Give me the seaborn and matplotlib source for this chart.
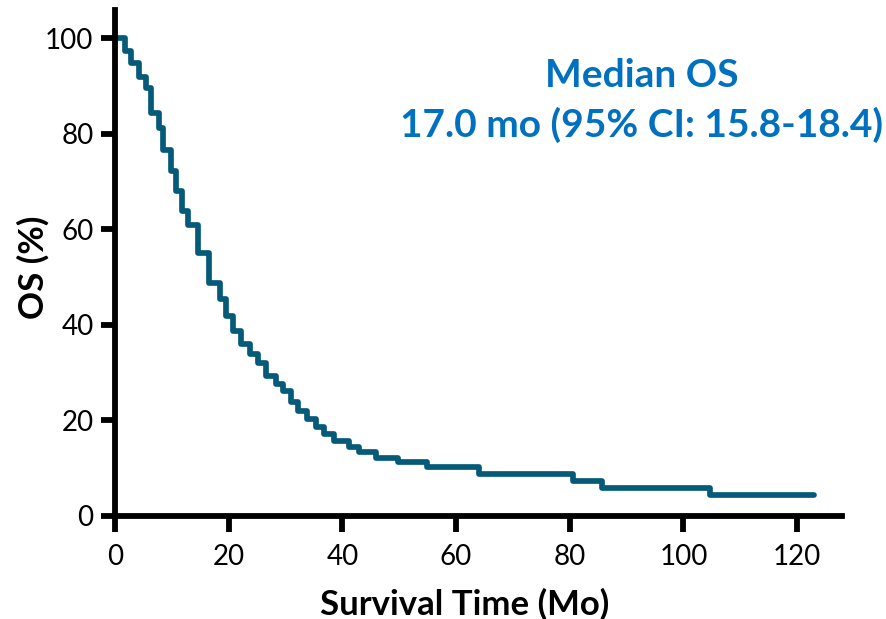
import matplotlib
matplotlib.use("Agg")
import matplotlib.pyplot as plt
import seaborn as sns
import pandas as pd

# Kaplan-Meier step data (time of drop, survival after drop)
times = [0, 1.8, 2.8, 4.3, 5.4, 6.3, 7.8, 8.5, 9.8, 10.7, 11.8, 12.9, 14.6, 16.6,
         18.5, 19.5, 20.7, 22.2, 23.7, 25.2, 26.5, 28.3, 29.6, 30.9, 32.2, 33.7,
         35.3, 36.8, 38.5, 41.2, 42.9, 45.9, 49.8, 54.9, 64.0, 80.6, 85.7, 104.7, 122.9]
survival = [100, 97.3, 94.8, 91.8, 89.5, 84.3, 81.1, 76.5, 72.3, 68.1, 63.9, 60.9, 55.1, 48.8,
            45.5, 41.8, 38.8, 36.0, 33.9, 32.0, 29.3, 27.7, 26.1, 23.8, 21.9, 20.3,
            18.6, 17.2, 15.6, 14.4, 13.3, 12.1, 11.2, 10.2, 8.7, 7.4, 5.8, 4.4, 4.4]
x_ticks = [0, 20, 40, 60, 80, 100, 120]
y_ticks = [0, 20, 40, 60, 80, 100]
annot_lines = ["Median OS", "17.0 mo (95% CI: 15.8-18.4)"]

sns.set_style("ticks")
plt.rcParams['font.family'] = ['Lato', 'DejaVu Sans']
plt.rcParams['text.color'] = 'black'
plt.rcParams['axes.labelcolor'] = 'black'
plt.rcParams['xtick.color'] = 'black'
plt.rcParams['ytick.color'] = 'black'

df = pd.DataFrame({"time": times, "os": survival})

W, H = 887, 619
fig = plt.figure(figsize=(W / 100, H / 100), dpi=100)
x0, x1, y0, y1 = 115, 842, 10, 516
ax = fig.add_axes([x0 / W, (H - y1) / H, (x1 - x0) / W, (y1 - y0) / H])

sns.lineplot(data=df, x="time", y="os", ax=ax, drawstyle="steps-post",
             color="#045a78", linewidth=4.1, sort=False)

ax.set_xlim(0, 127.9)
ax.set_ylim(0, 105.9)
ax.set_xticks(x_ticks)
ax.set_yticks(y_ticks)
ax.tick_params(axis="both", width=4.2, labelsize=20, color="black", labelcolor="black")
ax.tick_params(axis="x", length=11.3, pad=9)
ax.tick_params(axis="y", length=10, pad=5.5)
for s in ["top", "right"]:
    ax.spines[s].set_visible(False)
for s in ["left", "bottom"]:
    ax.spines[s].set_linewidth(4.2)
    ax.spines[s].set_color("black")
    ax.spines[s].set_capstyle("projecting")

axh = y1 - y0
axw = x1 - x0
ax.set_xlabel("Survival Time (Mo)", fontsize=25, fontweight="bold")
ax.xaxis.label.set_va("center")
ax.xaxis.set_label_coords((465 - x0) / axw, -(604 - y1) / axh)
ax.set_ylabel("OS (%)", fontsize=25, fontweight="bold")
ax.yaxis.label.set_va("center")
ax.yaxis.label.set_ha("center")
ax.yaxis.set_label_coords((33 - x0) / axw, (y1 - 267) / axh)

ax.text(642 / W, 1 - 87.3 / H, annot_lines[0], transform=fig.transFigure,
        ha="center", va="baseline", fontsize=28, fontweight="bold", color="#0070C0")
ax.text(642 / W, 1 - 137.3 / H, annot_lines[1], transform=fig.transFigure,
        ha="center", va="baseline", fontsize=28, fontweight="bold", color="#0070C0")

fig.savefig("out.png", dpi=100)
